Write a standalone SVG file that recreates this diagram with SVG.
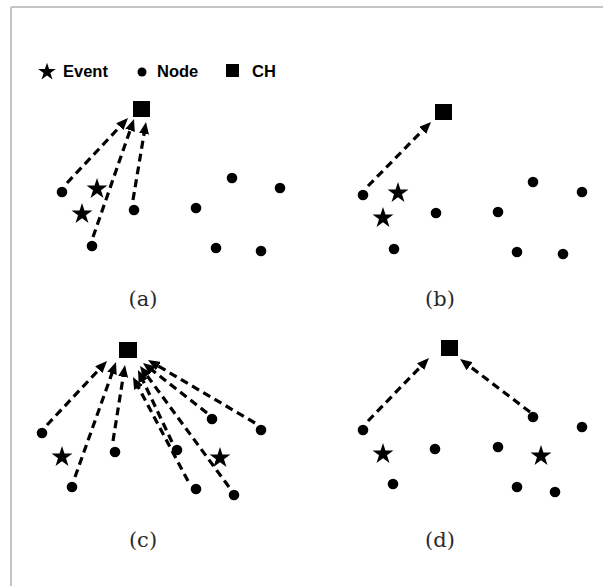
<svg xmlns="http://www.w3.org/2000/svg" xmlns:xlink="http://www.w3.org/1999/xlink" width="603" height="586" viewBox="0 0 603 586">
<style>
.node{fill:#000}
.ch{fill:#000}
.star{fill:#000}
.link{fill:none;stroke:#000;stroke-width:3.2;stroke-dasharray:8 5;marker-end:url(#arrow)}
.legend{font-family:"Liberation Sans",Arial,sans-serif;font-weight:bold;font-size:16.5px;fill:#000}
.cap{font-family:"DejaVu Serif","Liberation Serif",serif;font-size:21px;fill:#2a2a2a;text-anchor:middle}
.frame{stroke:#c4c4c4;stroke-width:2;fill:none}
</style>
<defs>
<marker id="arrow" markerUnits="userSpaceOnUse" markerWidth="12" markerHeight="10" refX="1" refY="5" orient="auto">
<path d="M0,0 L12,5 L0,10 Z" fill="#000"/>
</marker>
<path id="starShape" d="M0,-11 L2.47,-3.4 L10.46,-3.4 L3.99,1.3 L6.47,8.9 L0,4.2 L-6.47,8.9 L-3.99,1.3 L-10.46,-3.4 L-2.47,-3.4 Z"/>
</defs>
<rect width="603" height="586" fill="#fff"/>
<path class="frame" d="M11,7 H603 M11,7 V586"/>
<g id="legend">
<use href="#starShape" class="star" transform="translate(47,72) scale(0.85)"/>
<text class="legend" x="63" y="77">Event</text>
<circle class="node" cx="142" cy="72" r="4.5"/>
<text class="legend" x="157" y="77">Node</text>
<rect class="ch" x="226" y="64" width="13" height="13"/>
<text class="legend" x="252" y="77">CH</text>
</g>
<g id="connectors">
<line class="link" x1="67" y1="183" x2="120.5" y2="126"/>
<line class="link" x1="93" y1="237" x2="130.4" y2="129.4"/>
<line class="link" x1="133" y1="200" x2="144.2" y2="132.9"/>
<line class="link" x1="368" y1="186" x2="423.3" y2="129.8"/>
<line class="link" x1="47" y1="425" x2="99.5" y2="369"/>
<line class="link" x1="75" y1="477" x2="112.3" y2="372.4"/>
<line class="link" x1="113" y1="441" x2="123.3" y2="375.9"/>
<line class="link" x1="172" y1="442" x2="142.7" y2="380"/>
<line class="link" x1="188" y1="481" x2="138.1" y2="386.7"/>
<line class="link" x1="229" y1="487" x2="146.5" y2="374.9"/>
<line class="link" x1="207" y1="413" x2="151.7" y2="369.8"/>
<line class="link" x1="255" y1="423" x2="157.5" y2="365.6"/>
<line class="link" x1="368" y1="421" x2="421.3" y2="365.9"/>
<line class="link" x1="530" y1="412" x2="468.8" y2="365.6"/>
</g>
<g id="panel-a">
<rect id="a-ch" class="ch" x="133" y="101" width="17" height="16"/>
<circle id="a-n1" class="node" cx="62" cy="192" r="5.3"/>
<circle id="a-n2" class="node" cx="134" cy="210" r="5.3"/>
<circle id="a-n3" class="node" cx="92" cy="246" r="5.3"/>
<circle id="a-n4" class="node" cx="232" cy="178" r="5.3"/>
<circle id="a-n5" class="node" cx="280" cy="188" r="5.3"/>
<circle id="a-n6" class="node" cx="196" cy="208" r="5.3"/>
<circle id="a-n7" class="node" cx="216" cy="248" r="5.3"/>
<circle id="a-n8" class="node" cx="261" cy="251" r="5.3"/>
<use id="a-e1" href="#starShape" class="star" x="97" y="189"/>
<use id="a-e2" href="#starShape" class="star" x="82" y="214"/>
<text class="cap" x="143" y="306">(a)</text>
</g>
<g id="panel-b">
<rect id="b-ch" class="ch" x="435" y="104" width="17" height="16"/>
<circle id="b-n1" class="node" cx="363" cy="195" r="5.3"/>
<circle id="b-n2" class="node" cx="436" cy="213" r="5.3"/>
<circle id="b-n3" class="node" cx="394" cy="249" r="5.3"/>
<circle id="b-n4" class="node" cx="533" cy="182" r="5.3"/>
<circle id="b-n5" class="node" cx="582" cy="192" r="5.3"/>
<circle id="b-n6" class="node" cx="498" cy="212" r="5.3"/>
<circle id="b-n7" class="node" cx="517" cy="252" r="5.3"/>
<circle id="b-n8" class="node" cx="563" cy="254" r="5.3"/>
<use id="b-e1" href="#starShape" class="star" x="398" y="193"/>
<use id="b-e2" href="#starShape" class="star" x="383" y="218"/>
<text class="cap" x="440" y="306">(b)</text>
</g>
<g id="panel-c">
<rect id="c-ch" class="ch" x="119" y="342" width="18" height="16"/>
<circle id="c-n1" class="node" cx="42" cy="433" r="5.3"/>
<circle id="c-n2" class="node" cx="115" cy="452" r="5.3"/>
<circle id="c-n3" class="node" cx="72" cy="487" r="5.3"/>
<circle id="c-n4" class="node" cx="212" cy="419" r="5.3"/>
<circle id="c-n5" class="node" cx="261" cy="430" r="5.3"/>
<circle id="c-n6" class="node" cx="177" cy="450" r="5.3"/>
<circle id="c-n7" class="node" cx="196" cy="489" r="5.3"/>
<circle id="c-n8" class="node" cx="234" cy="495" r="5.3"/>
<use id="c-e1" href="#starShape" class="star" x="62" y="457"/>
<use id="c-e2" href="#starShape" class="star" x="220" y="458"/>
<text class="cap" x="143" y="547">(c)</text>
</g>
<g id="panel-d">
<rect id="d-ch" class="ch" x="441" y="340" width="17" height="16"/>
<circle id="d-n1" class="node" cx="363" cy="430" r="5.3"/>
<circle id="d-n2" class="node" cx="435" cy="449" r="5.3"/>
<circle id="d-n3" class="node" cx="393" cy="484" r="5.3"/>
<circle id="d-n4" class="node" cx="533" cy="417" r="5.3"/>
<circle id="d-n5" class="node" cx="582" cy="427" r="5.3"/>
<circle id="d-n6" class="node" cx="498" cy="447" r="5.3"/>
<circle id="d-n7" class="node" cx="517" cy="487" r="5.3"/>
<circle id="d-n8" class="node" cx="555" cy="492" r="5.3"/>
<use id="d-e1" href="#starShape" class="star" x="383" y="454"/>
<use id="d-e2" href="#starShape" class="star" x="541" y="456"/>
<text class="cap" x="440" y="547">(d)</text>
</g>
</svg>
